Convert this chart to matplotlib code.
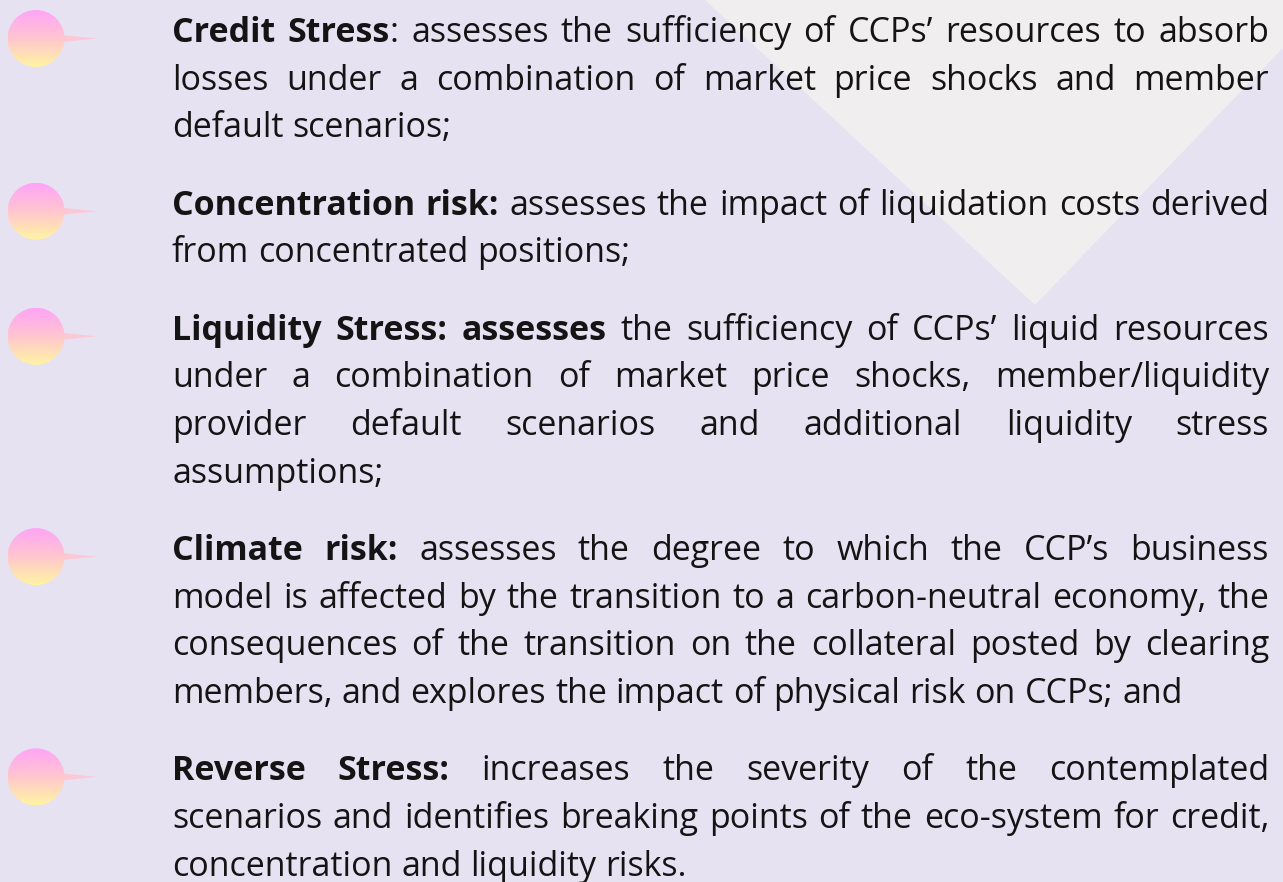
import matplotlib
matplotlib.use("Agg")
import matplotlib.pyplot as plt
import numpy as np
from matplotlib.colors import LinearSegmentedColormap
from matplotlib.patches import Circle, Polygon

# Bold lead-in of each bullet
heads = [
    "Credit Stress",
    "Concentration risk:",
    "Liquidity Stress: assesses",
    "Climate risk:",
    "Reverse Stress:",
]

# Rest of each bullet, broken into lines as in the source
# (a leading space means the first line starts a new word after the bold part)
body = [
    [": assesses the sufficiency of CCPs’ resources to absorb",
     "losses under a combination of market price shocks and member",
     "default scenarios;"],
    [" assesses the impact of liquidation costs derived",
     "from concentrated positions;"],
    [" the sufficiency of CCPs’ liquid resources",
     "under a combination of market price shocks, member/liquidity",
     "provider default scenarios and additional liquidity stress",
     "assumptions;"],
    [" assesses the degree to which the CCP’s business",
     "model is affected by the transition to a carbon-neutral economy, the",
     "consequences of the transition on the collateral posted by clearing",
     "members, and explores the impact of physical risk on CCPs; and"],
    [" increases the severity of the contemplated",
     "scenarios and identifies breaking points of the eco-system for credit,",
     "concentration and liquidity risks."],
]

# layout (pixels)
W, H = 1283, 882
X0, X1 = 172, 1269
FIRST_BASE = 42
LINE_STEP = 47.6
BLOCK_STEP = 77.5
FONT = "Open Sans"
FSIZE = 24.5
BG = "#e6e2f2"
TEXT_COLOR = "#141414"

fig = plt.figure(figsize=(W / 100, H / 100), dpi=100)
ax = fig.add_axes([0, 0, 1, 1])
ax.set_xlim(0, W)
ax.set_ylim(H, 0)
ax.axis("off")
fig.patch.set_facecolor(BG)

# pale triangle in the top right corner
ax.add_patch(Polygon([(705, 0), (W, 0), (W, 48), (1035, 305)],
                     closed=True, facecolor="#f0eeee", edgecolor="none", zorder=0))

renderer = fig.canvas.get_renderer()


def weight(bold):
    return "bold" if bold else "normal"


def text_width(s, bold):
    t = ax.text(0, 0, s, fontsize=FSIZE, family=FONT, fontweight=weight(bold))
    w = t.get_window_extent(renderer).width
    t.remove()
    return w


space_w = text_width("a a", False) - text_width("aa", False)


def words_of(line, head=None):
    words = []
    if head is not None:
        words = [[(w, True)] for w in head.split()]
        if not line.startswith(" "):
            parts = line.split()
            words[-1].append((parts[0], False))
            line = " ".join(parts[1:])
    words += [[(w, False)] for w in line.split()]
    return words


def draw_line(words, y, justify):
    widths = [sum(text_width(s, b) for s, b in word) for word in words]
    if justify and len(words) > 1:
        gap = (X1 - X0 - sum(widths)) / (len(words) - 1)
    else:
        gap = space_w
    x = X0
    for word, w in zip(words, widths):
        xx = x
        for s, b in word:
            ax.text(xx, y, s, fontsize=FSIZE, family=FONT, color=TEXT_COLOR,
                    fontweight=weight(b), ha="left", va="baseline", zorder=3)
            xx += text_width(s, b)
        x += w + gap


grad = LinearSegmentedColormap.from_list("bullet", ["#ffa4f7", "#ffc6cf", "#fff4a2"])
grad_img = grad(np.linspace(0, 1, 200))[:, None, :]


def draw_marker(cy, cx=36, r=28.5):
    ax.add_patch(Polygon([(cx + r - 3, cy - 3.5), (cx + r - 3, cy + 3.5), (cx + 61, cy)],
                         closed=True, facecolor="#fcc8d6", edgecolor="none", zorder=1))
    circ = Circle((cx, cy), r, facecolor="none", edgecolor="none")
    ax.add_patch(circ)
    im = ax.imshow(grad_img, extent=(cx - r, cx + r, cy + r, cy - r),
                   origin="upper", aspect="auto", zorder=2, interpolation="bilinear")
    im.set_clip_path(circ)


y = FIRST_BASE
for head, lines in zip(heads, body):
    draw_marker(y - 3.5)
    for i, line in enumerate(lines):
        words = words_of(line, head if i == 0 else None)
        draw_line(words, y, justify=(i < len(lines) - 1))
        y += LINE_STEP
    y += BLOCK_STEP - LINE_STEP

ax.set_xlim(0, W)
ax.set_ylim(H, 0)

fig.savefig("out.png", dpi=100, facecolor=BG)
